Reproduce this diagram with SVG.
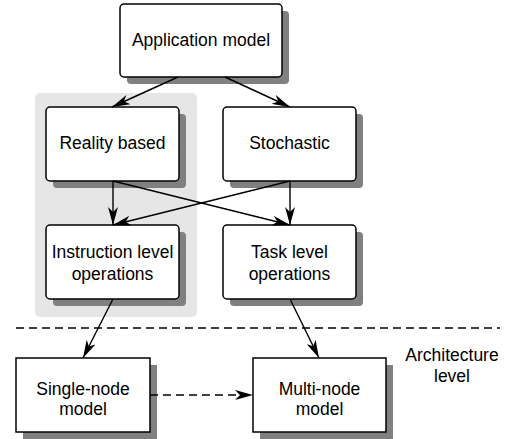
<svg xmlns="http://www.w3.org/2000/svg" width="506" height="439" viewBox="0 0 506 439">
<style>
.box{fill:#fff;stroke:#000;stroke-width:1.5}
.shadow{fill:#808080;stroke:none}
.lbl{font-family:"Liberation Sans",Arial,sans-serif;font-size:17.5px;fill:#000;text-anchor:middle}
.conn{stroke:#000;stroke-width:1.4;fill:none;marker-end:url(#ah)}
.dash{stroke-dasharray:8,5}
</style>
<defs>
<marker id="ah" viewBox="0 0 18 10" refX="18" refY="5" markerWidth="18" markerHeight="10" markerUnits="userSpaceOnUse" orient="auto">
<path d="M0,0 L18,5 L0,10 L5,5 z" fill="#000"/>
</marker>
</defs>
<rect x="35" y="93" width="162" height="224" rx="5" fill="#e6e6e6"/>
<g id="application-model">
<rect class="shadow" x="127" y="11" width="162" height="73" rx="4"/>
<rect class="box" x="120" y="4" width="162" height="73" rx="4"/>
<text class="lbl" x="201" y="46">Application model</text>
</g>
<g id="reality-based">
<rect class="shadow" x="53" y="114" width="133" height="74" rx="4"/>
<rect class="box" x="46" y="107" width="133" height="74" rx="4"/>
<text class="lbl" x="112.5" y="149">Reality based</text>
</g>
<g id="stochastic">
<rect class="shadow" x="230" y="114" width="133" height="74" rx="4"/>
<rect class="box" x="223" y="107" width="133" height="74" rx="4"/>
<text class="lbl" x="289.5" y="149">Stochastic</text>
</g>
<g id="instruction-level">
<rect class="shadow" x="53" y="232" width="133" height="74" rx="4"/>
<rect class="box" x="46" y="225" width="133" height="74" rx="4"/>
<text class="lbl" x="112.5" y="258">Instruction level</text>
<text class="lbl" x="112.5" y="280">operations</text>
</g>
<g id="task-level">
<rect class="shadow" x="230" y="232" width="133" height="74" rx="4"/>
<rect class="box" x="223" y="225" width="133" height="74" rx="4"/>
<text class="lbl" x="289.5" y="258">Task level</text>
<text class="lbl" x="289.5" y="280">operations</text>
</g>
<g id="single-node">
<rect class="shadow" x="23" y="365" width="134" height="74"/>
<rect class="box" x="16" y="358" width="134" height="74"/>
<text class="lbl" x="83" y="395">Single-node</text>
<text class="lbl" x="83" y="415">model</text>
</g>
<g id="multi-node">
<rect class="shadow" x="260" y="365" width="133" height="74"/>
<rect class="box" x="253" y="358" width="133" height="74"/>
<text class="lbl" x="319.5" y="395">Multi-node</text>
<text class="lbl" x="319.5" y="415">model</text>
</g>
<g id="architecture-label">
<text class="lbl" x="452" y="361">Architecture</text>
<text class="lbl" x="452" y="382">level</text>
</g>
<g id="connectors">
<line x1="16" y1="328" x2="500" y2="328" stroke="#000" stroke-width="1.4" class="dash"/>
<line class="conn" x1="178" y1="77" x2="112" y2="107"/>
<line class="conn" x1="225" y1="77" x2="290" y2="107"/>
<line class="conn" x1="113" y1="181" x2="113" y2="225"/>
<line class="conn" x1="113" y1="181" x2="290" y2="225"/>
<line class="conn" x1="290" y1="181" x2="113" y2="225"/>
<line class="conn" x1="290" y1="181" x2="290" y2="225"/>
<line class="conn" x1="113" y1="299" x2="83" y2="358"/>
<line class="conn" x1="290" y1="299" x2="319" y2="358"/>
<line class="conn dash" x1="150" y1="395" x2="253" y2="395"/>
</g>
</svg>
